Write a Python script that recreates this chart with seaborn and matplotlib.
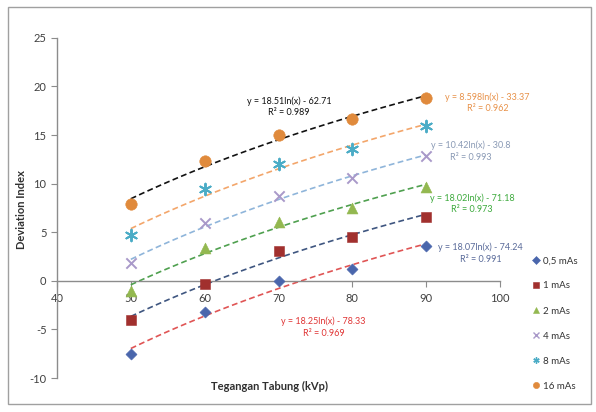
import numpy as np
import pandas as pd
import seaborn as sns
import matplotlib
matplotlib.use("Agg")
import matplotlib.pyplot as plt
from matplotlib.lines import Line2D
from matplotlib.patches import Rectangle

# ---------------- data ----------------
kvp = [50, 60, 70, 80, 90]
series_names = ["0,5 mAs", "1 mAs", "2 mAs", "4 mAs", "8 mAs", "16 mAs"]
di_05 = [-7.5, -3.2, 0.0, 1.2, 3.6]
di_1 = [-4.0, -0.3, 3.1, 4.5, 6.6]
di_2 = [-1.0, 3.4, 6.1, 7.5, 9.7]
di_4 = [1.8, 6.0, 8.7, 10.6, 12.8]
di_8 = [4.7, 9.5, 12.0, 13.6, 15.9]
di_16 = [7.9, 12.3, 15.0, 16.7, 18.8]
values = [di_05, di_1, di_2, di_4, di_8, di_16]

eq_texts = [
    "y = 18.07ln(x) - 74.24\nR² = 0.991",
    "y = 18.25ln(x) - 78.33\nR² = 0.969",
    "y = 18.02ln(x) - 71.18\nR² = 0.973",
    "y = 10.42ln(x) - 30.8\nR² = 0.993",
    "y = 8.598ln(x) - 33.37\nR² = 0.962",
    "y = 18.51ln(x) - 62.71\nR² = 0.989",
]

x_ticks = [40, 50, 60, 70, 80, 90, 100]
y_ticks = [-10, -5, 0, 5, 10, 15, 20, 25]

# ---------------- style ----------------
marker_colors = ["#4A66AC", "#A1302E", "#93B850", "#A999C9", "#4BACC6", "#E08A3C"]
markers = ["D", "s", "^", "x", (6, 2, 0), "o"]
marker_sizes = [32, 62, 62, 55, 70, 68]
trend_colors = ["#E05555", "#3F5680", "#4FA04F", "#8FB5DA", "#F3A66B", "#111111"]
eq_colors = ["#5A6B9A", "#E03535", "#3DAA3D", "#8A9AB5", "#E8924A", "#111111"]
# equation anchor positions (data coords, left/top of text block)
eq_pos = [(91.6, 3.9), (70.4, -3.7), (90.5, 9.0), (90.7, 14.4), (92.6, 19.4), (65.7, 19.0)]

sns.set_theme(style="white")
plt.rcParams["font.family"] = ["Lato", "DejaVu Sans"]

fig = plt.figure(figsize=(5.96, 4.12), dpi=100)
ax = fig.add_axes([0.0956, 0.0825, 0.7434, 0.8255])

df = pd.DataFrame({
    "kvp": np.tile(kvp, len(series_names)),
    "di": np.concatenate(values),
    "series": np.repeat(series_names, len(kvp)),
})

for i, name in enumerate(series_names):
    sub = df[df.series == name]
    sns.regplot(data=sub, x="kvp", y="di", logx=True, ci=None, scatter=False,
                ax=ax, line_kws=dict(color=trend_colors[i], lw=1.2, ls=(0, (3.5, 2)), zorder=2))

for i, name in enumerate(series_names):
    sub = df[df.series == name]
    mk = markers[i]
    if mk == "x" or isinstance(mk, tuple):
        kw = dict(linewidth=1.4)
    else:
        kw = dict(linewidth=0.4, edgecolor=marker_colors[i])
    sns.scatterplot(data=sub, x="kvp", y="di", ax=ax, marker=mk, s=marker_sizes[i],
                    color=marker_colors[i], zorder=3, legend=False, **kw)

for i in range(len(series_names)):
    ax.text(eq_pos[i][0], eq_pos[i][1], eq_texts[i], color=eq_colors[i], fontsize=6.5,
            ha="left", va="top", multialignment="center", linespacing=1.35,
            zorder=4, clip_on=False)

ax.set_xlim(40, 100)
ax.set_ylim(-10, 25)
ax.set_xticks(x_ticks)
ax.set_yticks(y_ticks)
ax.set_yticklabels([str(v) for v in y_ticks])

for s in ["top", "right"]:
    ax.spines[s].set_visible(False)
ax.spines["bottom"].set_position(("data", 0))
ax.spines["bottom"].set_color("#8C8C8C")
ax.spines["left"].set_color("#8C8C8C")
ax.spines["bottom"].set_linewidth(1.0)
ax.spines["left"].set_linewidth(1.0)
ax.tick_params(axis="both", which="major", direction="out", length=4, width=0.8,
               color="#8C8C8C", labelsize=8, labelcolor="#404040", bottom=True, left=True)
ax.tick_params(axis="x", pad=5)

ax.set_xlabel("Tegangan Tabung (kVp)", fontsize=8, fontweight="bold", color="#303030")
ax.set_ylabel("Deviation Index", fontsize=8, fontweight="bold", color="#303030")
ax.xaxis.label.set_va("center")
ax.yaxis.label.set_va("center")
ax.xaxis.set_label_coords(0.48, -0.024)
ax.yaxis.set_label_coords(-0.079, 0.494)

handles = []
for i, name in enumerate(series_names):
    mk = markers[i]
    handles.append(Line2D([], [], ls="none", marker=mk, markersize=4.5,
                          color=marker_colors[i], markeredgecolor=marker_colors[i],
                          markeredgewidth=1.0 if mk == "x" or isinstance(mk, tuple) else 0.4))
fig.legend(handles, series_names, loc="upper left", bbox_to_anchor=(0.887, 0.387),
           frameon=False, fontsize=7, labelspacing=1.65, handletextpad=0.25,
           handlelength=0.8, borderaxespad=0, labelcolor="#333333")

fig.patches.append(Rectangle((0.014, 0.02), 0.978, 0.963, transform=fig.transFigure,
                             fill=False, edgecolor="#A0A0A0", lw=1.0))

fig.savefig("out.png", dpi=100, facecolor="white")
